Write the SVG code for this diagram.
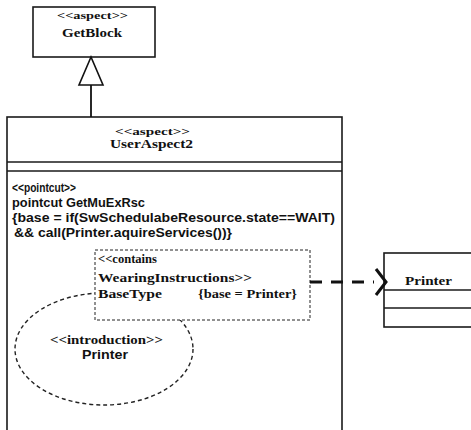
<svg xmlns="http://www.w3.org/2000/svg" width="471" height="430" viewBox="0 0 471 430">
<style>
.box{fill:#fff;stroke:#1a1a1a;stroke-width:1.6}
.sep{stroke:#1a1a1a;stroke-width:1.4;fill:none}
.ser{font-family:"Liberation Serif","Times New Roman",serif;font-weight:bold;font-size:13px;fill:#111}
.san{font-family:"Liberation Sans",Arial,sans-serif;font-weight:bold;font-size:12px;fill:#111}
.dash{fill:#fff;stroke:#222;stroke-width:1;stroke-dasharray:3 2}
.ell{fill:none;stroke:#222;stroke-width:1.4;stroke-dasharray:4 3}
.conn{fill:none;stroke:#111;stroke-width:3}
</style>
<rect width="471" height="430" fill="#fff"/>
<g id="GetBlock">
<rect class="box" x="33" y="7" width="122" height="50"/>
<text class="ser" x="57" y="19" textLength="71" lengthAdjust="spacingAndGlyphs" style="font-size:11px">&lt;&lt;aspect&gt;&gt;</text>
<text class="ser" x="62" y="37" textLength="60" lengthAdjust="spacingAndGlyphs">GetBlock</text>
</g>
<g id="UserAspect2">
<rect class="box" x="7" y="117" width="335" height="330"/>
<line class="sep" x1="7" y1="162" x2="342" y2="162"/>
<line class="sep" x1="7" y1="171" x2="342" y2="171"/>
<text class="ser" x="115" y="135" textLength="75" lengthAdjust="spacingAndGlyphs" style="font-size:11px">&lt;&lt;aspect&gt;&gt;</text>
<text class="ser" x="110" y="148" textLength="83" lengthAdjust="spacingAndGlyphs">UserAspect2</text>
<text class="san" x="12" y="192" textLength="64" lengthAdjust="spacingAndGlyphs">&lt;&lt;pointcut&gt;&gt;</text>
<text class="san" x="12" y="207" textLength="133" lengthAdjust="spacingAndGlyphs">pointcut  GetMuExRsc</text>
<text class="san" x="12" y="222" textLength="323" lengthAdjust="spacingAndGlyphs">{base = if(SwSchedulabeResource.state==WAIT)</text>
<text class="san" x="14" y="237" textLength="218" lengthAdjust="spacingAndGlyphs">&amp;&amp; call(Printer.aquireServices())}</text>
</g>
<g id="Introduction">
<ellipse class="ell" cx="104" cy="349" rx="89" ry="56"/>
<text class="ser" x="50" y="344" textLength="113" lengthAdjust="spacingAndGlyphs" style="font-size:12px">&lt;&lt;introduction&gt;&gt;</text>
<text class="san" x="82" y="359" textLength="46" lengthAdjust="spacingAndGlyphs">Printer</text>
</g>
<g id="WeavingInstructions">
<rect class="dash" x="95" y="250" width="215" height="70"/>
<text class="ser" x="98" y="263" textLength="59" lengthAdjust="spacingAndGlyphs" style="font-size:12px">&lt;&lt;contains</text>
<text class="ser" x="98" y="282" textLength="154" lengthAdjust="spacingAndGlyphs" style="font-size:12px">WearingInstructions&gt;&gt;</text>
<text class="ser" x="98" y="298" textLength="64" lengthAdjust="spacingAndGlyphs" style="font-size:12px">BaseType</text>
<text class="ser" x="198" y="298" textLength="99" lengthAdjust="spacingAndGlyphs" style="font-size:12px">{base = Printer}</text>
</g>
<g id="Printer">
<rect class="box" x="384" y="253" width="92" height="74"/>
<line class="sep" x1="384" y1="290" x2="476" y2="290"/>
<line class="sep" x1="384" y1="308" x2="476" y2="308"/>
<text class="ser" x="405" y="285" textLength="47" lengthAdjust="spacingAndGlyphs">Printer</text>
</g>
<g id="connectors">
<line x1="91" y1="85" x2="91" y2="117" stroke="#111" stroke-width="1.8"/>
<polygon points="91,57 79,85 103,85" fill="#fff" stroke="#111" stroke-width="1.6"/>
<line class="conn" x1="310" y1="282" x2="374" y2="282" stroke-dasharray="12 9"/>
<polyline class="conn" points="376,269 386,282 376,295"/>
</g>
</svg>
